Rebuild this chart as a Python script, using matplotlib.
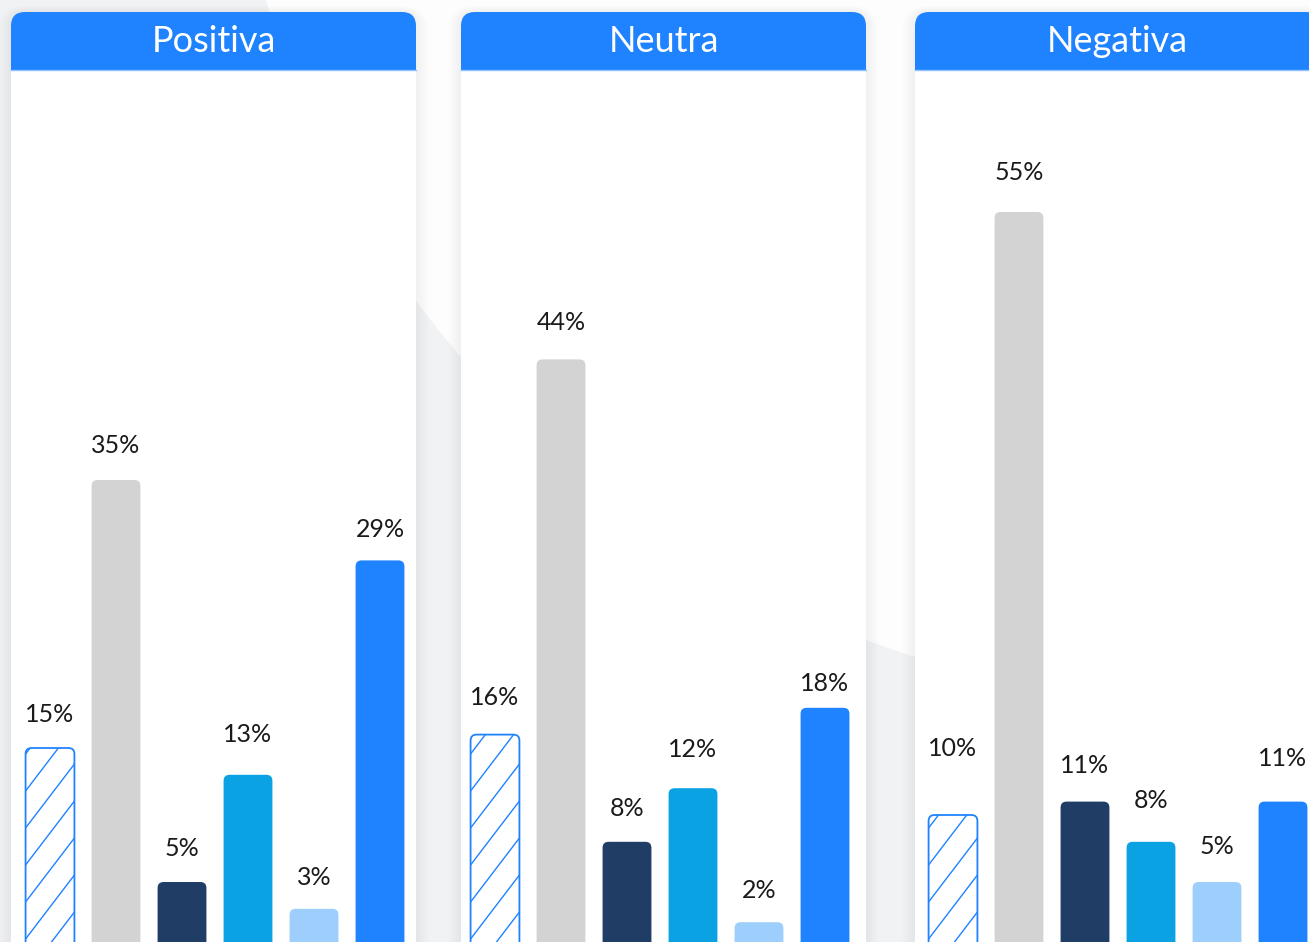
import matplotlib
matplotlib.use("Agg")
import matplotlib.pyplot as plt
from matplotlib.patches import FancyBboxPatch, Rectangle, Circle
import numpy as np

# Data
panels = ['Positiva', 'Neutra', 'Negativa']
positiva = [15, 35, 5, 13, 3, 29]
neutra = [16, 44, 8, 12, 2, 18]
negativa = [10, 55, 11, 8, 5, 11]
values = [positiva, neutra, negativa]

# Styles
bar_colors = ['white', '#D3D3D3', '#203D66', '#0BA2E3', '#9ECEFB', '#1F82FF']
blue = '#1F83FF'
bg_gray = '#F1F2F4'
font = ['Lato', 'DejaVu Sans']
# label distance above the bar top (px), as placed in the original
label_gap = [[34, 35, 34, 40, 31, 31],
             [37, 37, 33, 39, 32, 24],
             [67, 40, 36, 41, 36, 43]]

W, H = 1309, 942
fig = plt.figure(figsize=(W / 100, H / 100), dpi=100)
fig.patch.set_facecolor(bg_gray)

# background layer in pixel coordinates
bg = fig.add_axes([0, 0, 1, 1])
bg.set_xlim(0, W)
bg.set_ylim(H, 0)
bg.axis('off')
bg.add_patch(Circle((1210, -284), 986, facecolor='#FDFDFD', edgecolor='none', zorder=0))

panel_left = [11, 461, 915]
first_center = [39, 34, 38]
panel_w = 405
head_top, head_bot = 12, 70

for left, name in zip(panel_left, panels):
    # soft shadow
    for k in range(1, 14):
        bg.add_patch(FancyBboxPatch((left - k, head_top - k * 0.5), panel_w + 2 * k, 1200,
                                    boxstyle=f"round,pad=0,rounding_size={14 + k}",
                                    facecolor='black', edgecolor='none', alpha=0.005, zorder=1))
    bg.add_patch(Rectangle((left, head_bot), panel_w, H, facecolor='white',
                           edgecolor='none', zorder=2))
    bg.add_patch(FancyBboxPatch((left, head_top), panel_w, 90,
                                boxstyle="round,pad=0,rounding_size=14",
                                facecolor=blue, edgecolor='none', zorder=3))
    bg.add_patch(Rectangle((left, head_bot), panel_w, 40, facecolor='white',
                           edgecolor='none', zorder=4))
    bg.plot([left, left + panel_w], [head_bot, head_bot], color='#8FC3FF', lw=1, zorder=5)
    bg.text(left + panel_w / 2, (head_top + head_bot) / 2 + 1, name, color='white',
            fontsize=26, family=font, ha='center', va='center', zorder=6)

# bar panels
px_per_x = 66.0
px_per_pct = 13.4
bar_w = 0.74
rx = 6 / px_per_x
asp = px_per_x / px_per_pct

for left, fc, vals, gaps in zip(panel_left, first_center, values, label_gap):
    ax = fig.add_axes([left / W, 0, panel_w / W, (H - head_bot) / H])
    ax.patch.set_alpha(0)
    ax.axis('off')
    ax.set_xlim(-fc / px_per_x, (panel_w - fc) / px_per_x)
    y0 = (949 - H) / px_per_pct
    ax.set_ylim(y0, y0 + (H - head_bot) / px_per_pct)

    x = np.arange(len(vals))
    bars = ax.bar(x, vals, width=bar_w, color=bar_colors)
    for i, (rect, v, g) in enumerate(zip(bars, vals, gaps)):
        rect.set_visible(False)
        bx, by, bw, bh = rect.get_x(), rect.get_y(), rect.get_width(), rect.get_height()
        if i == 0:
            p = FancyBboxPatch((bx, by), bw, bh, boxstyle=f"round,pad=0,rounding_size={rx}",
                               mutation_aspect=asp, facecolor='white', edgecolor=blue,
                               lw=1.3, zorder=3)
            ax.add_patch(p)
            slope = 1.31 * px_per_x / px_per_pct
            step = 37 / px_per_pct
            for c in np.arange(by - slope * bw, by + bh + step, step):
                ln, = ax.plot([bx, bx + bw], [c, c + slope * bw], color=blue, lw=1.0, zorder=3)
                ln.set_clip_path(p)
        else:
            ax.add_patch(FancyBboxPatch((bx, by), bw, bh, boxstyle=f"round,pad=0,rounding_size={rx}",
                                        mutation_aspect=asp, facecolor=rect.get_facecolor(),
                                        edgecolor='none', zorder=3))
        ax.annotate(f'{v}%', (bx + bw / 2, bh), xytext=(0, g * 0.72),
                    textcoords='offset points', ha='center', va='center',
                    fontsize=18, family=font, color='#1A1A1A')

fig.savefig('out.png', dpi=100, facecolor=fig.get_facecolor())
